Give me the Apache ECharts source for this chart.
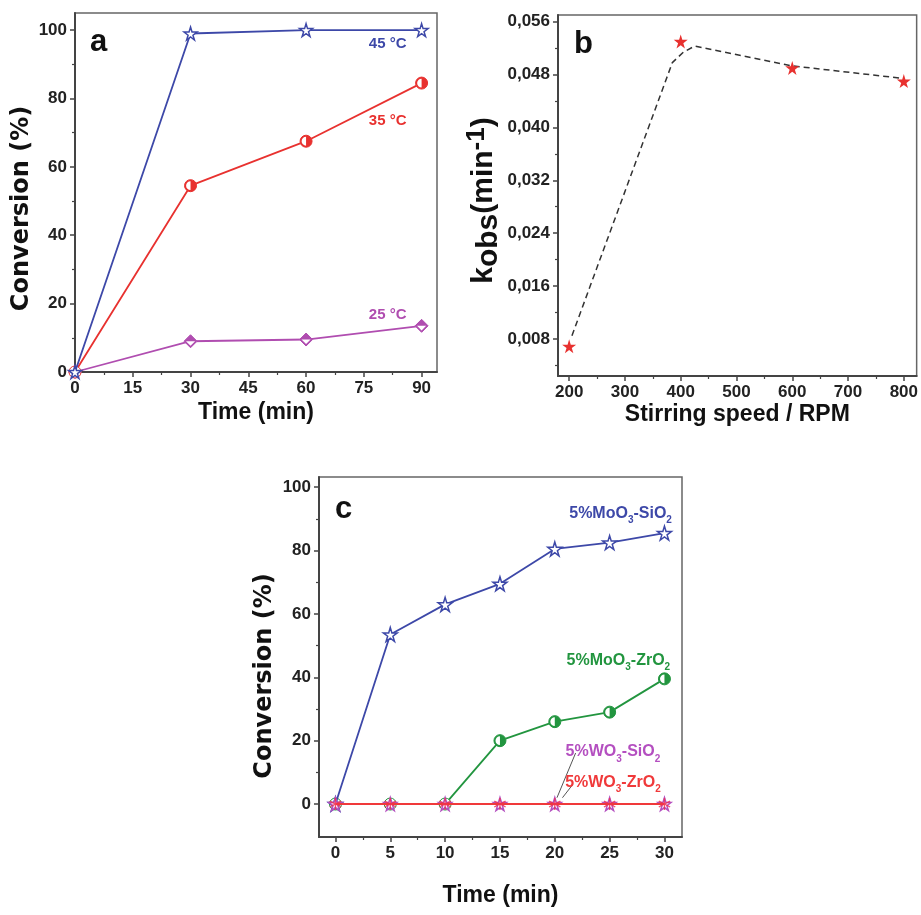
<!DOCTYPE html>
<html>
<head>
<meta charset="utf-8">
<script src="https://cdn.jsdelivr.net/npm/echarts@6/dist/echarts.min.js"></script>
<style>
html, body { margin: 0; padding: 0; background: #fff; }
#main { width: 921px; height: 915px; }
</style>
</head>
<body>
<div id="main"></div>
<script>
// ---- data: panel a (conversion vs time at 3 temperatures)
var timeA = [0, 30, 60, 90];
var conv45 = [0, 99, 100, 100];
var conv35 = [0, 54.5, 67.5, 84.5];
var conv25 = [0, 9, 9.5, 13.5];

// ---- data: panel b (kobs vs stirring speed)
var speedB = [200, 400, 600, 800];
var kobs = [0.0069, 0.0530, 0.0490, 0.0470];
var trendSpeed = [205, 385, 405, 425, 600, 800];
var trendK = [0.0085, 0.0498, 0.0514, 0.0523, 0.0493, 0.0474];

// ---- data: panel c (conversion vs time, 4 catalysts)
var timeC = [0, 5, 10, 15, 20, 25, 30];
var moSi = [0, 53.5, 63, 69.5, 80.5, 82.5, 85.5];
var moZr = [0, 0, 0, 20, 26, 29, 39.5];
var wSi = [0, 0, 0, 0, 0, 0, 0];
var wZr = [0, 0, 0, 0, 0, 0, 0];

// ---- tick values
var ticksAx = [0, 15, 30, 45, 60, 75, 90];
var minorAx = [7.5, 22.5, 37.5, 52.5, 67.5, 82.5];
var ticksAy = [0, 20, 40, 60, 80, 100];
var minorAy = [10, 30, 50, 70, 90];
var ticksBx = [200, 300, 400, 500, 600, 700, 800];
var minorBx = [250, 350, 450, 550, 650, 750];
var ticksBy = [0.008, 0.016, 0.024, 0.032, 0.040, 0.048, 0.056];
var minorBy = [0.004, 0.012, 0.020, 0.028, 0.036, 0.044, 0.052];
var ticksCx = [0, 5, 10, 15, 20, 25, 30];
var minorCx = [2.5, 7.5, 12.5, 17.5, 22.5, 27.5];
var ticksCy = [0, 20, 40, 60, 80, 100];
var minorCy = [10, 30, 50, 70, 90];

var BLUE = '#3d48a8';
var RED = '#e8312f';
var PURPLE = '#b04db0';
var GREEN = '#22953f';
var MAGENTA = '#b44fc0';
var RED2 = '#f0393a';
var SANS = "'Liberation Sans', Arial, sans-serif";
var WIDE = "'DejaVu Sans', Verdana, sans-serif";

var STAR = 'path://M50,0 L61,35 L98,35 L68,57 L79,91 L50,70 L21,91 L32,57 L2,35 L39,35 Z';
// ring with right half filled
var HALF_CIRCLE = 'path://M50,0 A50,50 0 1,1 50,100 A50,50 0 1,1 50,0 Z ' +
    'M50,13 A37,37 0 1,0 50,87 A37,37 0 1,0 50,13 Z M50,13 A37,37 0 0,1 50,87 Z';
// diamond outline with top half filled
var HALF_DIAMOND = 'path://M50,0 L100,50 L50,100 L0,50 Z M50,15 L15,50 L50,85 L85,50 Z M50,15 L85,50 L15,50 Z';
var ASTER = 'path://M45,0 H55 V41 L89,21 L94,30 L60,50 L94,70 L89,79 L55,59 V100 H45 V59 L11,79 L6,70 L40,50 L6,30 L11,21 L45,41 Z';

function pts(xs, ys) {
    return xs.map(function (x, i) { return [x, ys[i]]; });
}

function mainAxis(grid, pos, min, max, majors, fmt) {
    return {
        type: 'value', gridIndex: grid, position: pos, min: min, max: max,
        axisLine: { show: true, onZero: false, lineStyle: { color: '#444', width: 2 } },
        axisTick: { show: true, inside: false, length: 5, customValues: majors, lineStyle: { color: '#444', width: 1.5 } },
        axisLabel: {
            show: true, customValues: majors, formatter: fmt, margin: 8,
            color: '#222', fontFamily: SANS, fontWeight: 'bold', fontSize: 17
        },
        splitLine: { show: false }
    };
}

function minorAxis(grid, pos, min, max, minors) {
    return {
        type: 'value', gridIndex: grid, position: pos, min: min, max: max,
        axisLine: { show: false, onZero: false },
        axisTick: { show: true, inside: false, length: 3, customValues: minors, lineStyle: { color: '#444', width: 1.2 } },
        axisLabel: { show: false },
        splitLine: { show: false }
    };
}

function plain(v) { return String(v); }
function comma(v) { return v.toFixed(3).replace('.', ','); }

// text placed at a data position
function note(xi, yi, x, y, text, color, fontSize, extra) {
    var label = {
        show: true, position: 'inside', formatter: text, color: color, opacity: 1,
        fontFamily: SANS, fontWeight: 'bold', fontSize: fontSize
    };
    if (extra) { for (var k in extra) label[k] = extra[k]; }
    return {
        type: 'scatter', xAxisIndex: xi, yAxisIndex: yi, data: [[x, y]],
        symbolSize: 1, itemStyle: { color: 'rgba(0,0,0,0)', opacity: 1 }, silent: true, z: 10,
        label: label
    };
}

function subRich(color) {
    return {
        rich: {
            s: { fontSize: 10, lineHeight: 10, verticalAlign: 'bottom', color: color, fontFamily: SANS, fontWeight: 'bold' }
        },
        lineHeight: 25
    };
}

var myChart = echarts.init(document.getElementById('main'));

var xAxes = [
    mainAxis(0, 'bottom', 0, 94, ticksAx, plain),
    minorAxis(0, 'bottom', 0, 94, minorAx),
    mainAxis(1, 'bottom', 180, 823, ticksBx, plain),
    minorAxis(1, 'bottom', 180, 823, minorBx),
    mainAxis(2, 'bottom', -1.5, 31.6, ticksCx, plain),
    minorAxis(2, 'bottom', -1.5, 31.6, minorCx)
];
var yAxes = [
    mainAxis(0, 'left', 0, 105, ticksAy, plain),
    minorAxis(0, 'left', 0, 105, minorAy),
    mainAxis(1, 'left', 0.0024, 0.057, ticksBy, comma),
    minorAxis(1, 'left', 0.0024, 0.057, minorBy),
    mainAxis(2, 'left', -10.4, 103.2, ticksCy, plain),
    minorAxis(2, 'left', -10.4, 103.2, minorCy)
];

var xNameStyle = { fontFamily: SANS, fontWeight: 'bold', fontSize: 23, color: '#111' };
xAxes[0].name = 'Time (min)'; xAxes[0].nameGap = 29; xAxes[0].nameLocation = 'middle'; xAxes[0].nameTextStyle = xNameStyle;
xAxes[2].name = 'Stirring speed / RPM'; xAxes[2].nameGap = 27; xAxes[2].nameLocation = 'middle'; xAxes[2].nameTextStyle = xNameStyle;
xAxes[4].name = 'Time (min)'; xAxes[4].nameGap = 47; xAxes[4].nameLocation = 'middle'; xAxes[4].nameTextStyle = xNameStyle;

yAxes[0].name = 'Conversion (%)'; yAxes[0].nameLocation = 'middle'; yAxes[0].nameRotate = 90; yAxes[0].nameGap = 41;
yAxes[0].nameTextStyle = { fontFamily: WIDE, fontWeight: 'bold', fontSize: 24, color: '#111', padding: [0, 32, 0, 0] };
yAxes[4].name = 'Conversion (%)'; yAxes[4].nameLocation = 'middle'; yAxes[4].nameRotate = 90; yAxes[4].nameGap = 42;
yAxes[4].nameTextStyle = { fontFamily: WIDE, fontWeight: 'bold', fontSize: 24, color: '#111', padding: [0, 38, 0, 0] };
yAxes[2].name = 'k{s|obs}(min{p|-1})'; yAxes[2].nameLocation = 'middle'; yAxes[2].nameRotate = 90; yAxes[2].nameGap = 48;
yAxes[2].nameTextStyle = {
    fontFamily: SANS, fontWeight: 'bold', fontSize: 30, lineHeight: 40, color: '#111', padding: [0, 10, 0, 0],
    rich: {
        s: { fontFamily: SANS, fontWeight: 'bold', fontSize: 30, lineHeight: 30, verticalAlign: 'bottom', color: '#111' },
        p: { fontFamily: SANS, fontWeight: 'bold', fontSize: 26, lineHeight: 26, verticalAlign: 'top', color: '#111' }
    }
};

var letterStyle = { fontFamily: SANS, fontWeight: 'bold', fontSize: 31, color: '#111' };

var option = {
    backgroundColor: '#fff',
    animation: false,
    title: [
        { text: 'a', left: 85, top: 22, textStyle: letterStyle },
        { text: 'b', left: 569, top: 24, textStyle: letterStyle },
        { text: 'c', left: 330, top: 489, textStyle: letterStyle }
    ],
    grid: [
        { left: 75, top: 13, width: 362, height: 359, show: true, borderColor: '#666', borderWidth: 1.5 },
        { left: 558, top: 15, width: 362, height: 361, show: true, borderColor: '#666', borderWidth: 1.5 },
        { left: 319, top: 477, width: 363, height: 360, show: true, borderColor: '#666', borderWidth: 1.5 }
    ],
    xAxis: xAxes,
    yAxis: yAxes,
    series: [
        // ---- panel a
        {
            type: 'line', xAxisIndex: 0, yAxisIndex: 0, data: pts(timeA, conv25),
            symbol: 'diamond', symbolSize: 13, itemStyle: { color: '#fff', borderColor: PURPLE, borderWidth: 1 },
            lineStyle: { color: PURPLE, width: 1.8 }, z: 2
        },
        {
            type: 'scatter', xAxisIndex: 0, yAxisIndex: 0, data: pts(timeA, conv25).slice(1),
            symbol: HALF_DIAMOND, symbolSize: 13, itemStyle: { color: PURPLE, opacity: 1 }, z: 4
        },
        {
            type: 'line', xAxisIndex: 0, yAxisIndex: 0, data: pts(timeA, conv35),
            symbol: 'circle', symbolSize: 12, itemStyle: { color: '#fff', borderColor: RED, borderWidth: 1 },
            lineStyle: { color: RED, width: 1.8 }, z: 2
        },
        {
            type: 'scatter', xAxisIndex: 0, yAxisIndex: 0, data: pts(timeA, conv35).slice(1),
            symbol: HALF_CIRCLE, symbolSize: 12, itemStyle: { color: RED, opacity: 1 }, z: 4
        },
        {
            type: 'line', xAxisIndex: 0, yAxisIndex: 0, data: pts(timeA, conv45),
            symbol: STAR, symbolSize: 13, itemStyle: { color: '#fff', borderColor: BLUE, borderWidth: 1.5 },
            lineStyle: { color: BLUE, width: 1.8 }, z: 3
        },
        note(0, 0, 81.2, 96.0, '45 °C', BLUE, 15),
        note(0, 0, 81.2, 73.5, '35 °C', RED, 15),
        note(0, 0, 81.2, 16.6, '25 °C', PURPLE, 15),

        // ---- panel b
        {
            type: 'line', xAxisIndex: 2, yAxisIndex: 2, data: pts(trendSpeed, trendK),
            symbol: 'none', lineStyle: { color: '#333', width: 1.5, type: [6, 4] }, z: 2
        },
        {
            type: 'scatter', xAxisIndex: 2, yAxisIndex: 2, data: pts(speedB, kobs),
            symbol: STAR, symbolSize: 14, itemStyle: { color: RED, opacity: 1 }, z: 4
        },

        // ---- panel c
        {
            type: 'line', xAxisIndex: 4, yAxisIndex: 4, data: pts(timeC, moSi),
            symbol: STAR, symbolSize: 14, itemStyle: { color: '#fff', borderColor: BLUE, borderWidth: 1.5 },
            lineStyle: { color: BLUE, width: 1.8 }, z: 3
        },
        {
            type: 'line', xAxisIndex: 4, yAxisIndex: 4, data: pts(timeC, moZr),
            symbol: 'circle', symbolSize: 12, itemStyle: { color: '#fff', borderColor: GREEN, borderWidth: 1 },
            lineStyle: { color: GREEN, width: 1.8 }, z: 2
        },
        {
            type: 'scatter', xAxisIndex: 4, yAxisIndex: 4, data: pts(timeC, moZr).slice(3),
            symbol: HALF_CIRCLE, symbolSize: 12, itemStyle: { color: GREEN, opacity: 1 }, z: 4
        },
        {
            type: 'line', xAxisIndex: 4, yAxisIndex: 4, data: pts(timeC, wSi),
            symbol: STAR, symbolSize: 13, itemStyle: { color: '#fff', borderColor: MAGENTA, borderWidth: 1.5 },
            lineStyle: { color: MAGENTA, width: 1.8 }, z: 4
        },
        {
            type: 'line', xAxisIndex: 4, yAxisIndex: 4, data: pts(timeC, wZr),
            symbol: ASTER, symbolSize: 12, itemStyle: { color: 'rgba(240,50,80,0.85)' },
            lineStyle: { color: RED2, width: 2 }, z: 5,
            markLine: {
                silent: true, symbol: ['none', 'arrow'], symbolSize: [0, 7],
                lineStyle: { color: '#555', width: 1, type: 'solid' }, label: { show: false },
                data: [
                    [{ coord: [21.9, 16.1] }, { coord: [20.2, 2.0] }],
                    [{ coord: [21.6, 6.0] }, { coord: [20.7, 2.0] }]
                ]
            }
        },
        note(4, 4, 26.0, 91.8, '5%MoO{s|3}-SiO{s|2}', BLUE, 16, subRich(BLUE)),
        note(4, 4, 25.8, 45.4, '5%MoO{s|3}-ZrO{s|2}', GREEN, 16, subRich(GREEN)),
        note(4, 4, 25.3, 16.4, '5%WO{s|3}-SiO{s|2}', MAGENTA, 16, subRich(MAGENTA)),
        note(4, 4, 25.3, 6.9, '5%WO{s|3}-ZrO{s|2}', RED2, 16, subRich(RED2))
    ]
};

myChart.setOption(option);
window.onresize = myChart.resize;
</script>
</body>
</html>
